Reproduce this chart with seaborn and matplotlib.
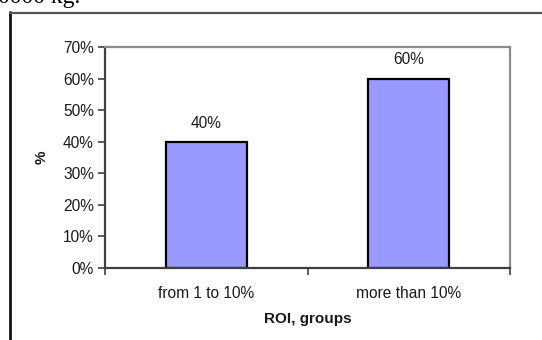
import matplotlib
matplotlib.use("Agg")
import matplotlib.pyplot as plt
from matplotlib.lines import Line2D
from matplotlib.ticker import PercentFormatter
import seaborn as sns
import pandas as pd

# ROI groups and the share of respondents in each
groups = ["from 1 to 10%", "more than 10%"]
shares = [40, 60]
y_ticks = [0, 10, 20, 30, 40, 50, 60, 70]

sns.set_theme(style="white")
plt.rcParams["font.family"] = ["Liberation Sans", "DejaVu Sans"]

W, H = 542, 340
fig = plt.figure(figsize=(W / 100, H / 100), dpi=100)
fig.patch.set_facecolor("white")

ax = fig.add_axes([105 / W, 1 - 268 / H, (510 - 105) / W, (268 - 47) / H])

df = pd.DataFrame({"group": groups, "share": shares})
sns.barplot(data=df, x="group", y="share", ax=ax, color="#9999FF",
            saturation=1, width=0.4, edgecolor="black", linewidth=1.6)

ax.set_ylim(0, 70)
ax.set_yticks(y_ticks)
ax.yaxis.set_major_formatter(PercentFormatter(decimals=0))
ax.set_xlim(-0.5, len(groups) - 0.5)

# category boundary ticks on the x axis
ax.set_xticks([-0.5, 0.5, 1.5], minor=True)
ax.tick_params(axis="x", which="major", length=0, pad=13)
ax.tick_params(axis="x", which="minor", length=5, width=1.2, color="#404040",
               direction="out", bottom=True)
ax.tick_params(axis="y", length=5, width=1.2, color="#404040", direction="out",
               left=True, pad=3)
ax.tick_params(labelsize=11.2, labelcolor="#1a1a1a")

for side in ("left", "bottom"):
    ax.spines[side].set_color("#404040")
    ax.spines[side].set_linewidth(1.6)
for side in ("top", "right"):
    ax.spines[side].set_color("#8c8c8c")
    ax.spines[side].set_linewidth(1.6)
    ax.spines[side].set_visible(True)

for c in ax.containers:
    ax.bar_label(c, labels=[f"{v:.0f}%" for v in c.datavalues], padding=8,
                 fontsize=11.2, color="#1a1a1a")

ax.set_xlabel("ROI, groups", fontsize=11, fontweight="bold", labelpad=8,
              color="#1a1a1a")
ax.set_ylabel("%", fontsize=11, fontweight="bold", labelpad=10, color="#1a1a1a")

# surrounding frame and the line of text above it
fig.add_artist(Line2D([10 / W, 10 / W], [0, 1 - 12 / H], transform=fig.transFigure,
                      color="#111111", linewidth=2.0))
fig.add_artist(Line2D([10 / W, 1.0], [1 - 12.5 / H, 1 - 12.5 / H],
                      transform=fig.transFigure, color="#555555", linewidth=1.6))
fig.text(-0.004, 1 - 3.5 / H, "0000 kg.", fontsize=17, family="Liberation Serif",
         color="black", va="baseline", ha="left")

fig.savefig("out.png", dpi=100, facecolor="white")
